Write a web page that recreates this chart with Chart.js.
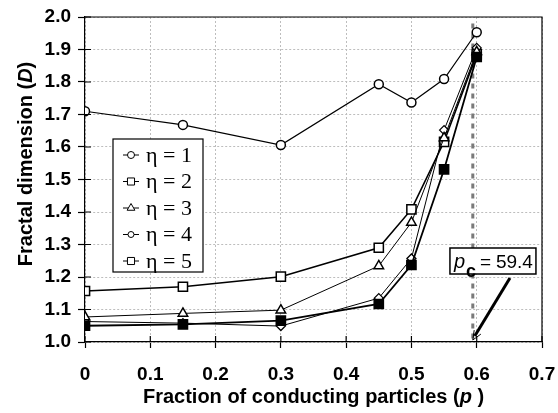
<!DOCTYPE html>
<html>
<head>
<meta charset="utf-8">
<title>Fractal dimension vs fraction of conducting particles</title>
<script src="https://cdn.jsdelivr.net/npm/chart.js@4.4.0/dist/chart.umd.min.js"></script>
<style>
  html, body { margin: 0; padding: 0; background: #fff; }
  #wrap { width: 558px; height: 413px; }
</style>
</head>
<body>
<div id="wrap"><canvas id="fractalChart" width="558" height="413"></canvas></div>
<script>
// Dữ liệu
const pValues = [0, 0.15, 0.3, 0.45, 0.5, 0.55, 0.6];
const eta1 = [1.710, 1.668, 1.606, 1.793, 1.737, 1.809, 1.953];
const eta2 = [1.050, 1.054, 1.066, 1.117, 1.237, 1.531, 1.877];
const eta3 = [1.077, 1.088, 1.098, 1.234, 1.368, 1.628, 1.893];
const eta4 = [1.063, 1.058, 1.049, 1.135, 1.257, 1.652, 1.905];
const eta5 = [1.157, 1.170, 1.201, 1.290, 1.408, 1.616, 1.885];
const seriesLabels = ['η = 1', 'η = 2', 'η = 3', 'η = 4', 'η = 5'];

const xTickValues = [0, 0.1, 0.2, 0.3, 0.4, 0.5, 0.6, 0.7];
const xTickLabels = ['0', '0.1', '0.2', '0.3', '0.4', '0.5', '0.6', '0.7'];
const yTickValues = [1.0, 1.1, 1.2, 1.3, 1.4, 1.5, 1.6, 1.7, 1.8, 1.9, 2.0];
const yTickLabels = ['1.0', '1.1', '1.2', '1.3', '1.4', '1.5', '1.6', '1.7', '1.8', '1.9', '2.0'];

const pCritical = 0.594;
const pCriticalLabel = '59.4';

const SANS = '"Liberation Sans", Arial, sans-serif';
const SERIF = '"Liberation Serif", "Times New Roman", serif';

function toPoints(ys) {
    return pValues.map((p, i) => ({ x: p, y: ys[i] }));
}

// Kiểu của từng đường
const styles = [
    { style: 'circle',   radius: 4.5, fill: '#fff', width: 1.2, pw: 1.5 },
    { style: 'rect',     radius: 6.5, fill: '#000', width: 1.8, pw: 1.5 },
    { style: 'triangle', radius: 5.5, fill: '#fff', width: 1.0, pw: 1.5 },
    { style: 'rectRot',  radius: 4.5, fill: '#fff', width: 1.0, pw: 1.3 },
    { style: 'rect',     radius: 6.5, fill: '#fff', width: 1.6, pw: 1.5 }
];
const legendStyles = [
    { style: 'circle',   radius: 3.5, fill: '#fff' },
    { style: 'rect',     radius: 5,   fill: '#fff' },
    { style: 'triangle', radius: 4.5, fill: '#fff' },
    { style: 'circle',   radius: 3,   fill: '#fff' },
    { style: 'rect',     radius: 5,   fill: '#fff' }
];

const allSeries = [eta1, eta2, eta3, eta4, eta5];

const datasets = allSeries.map((ys, i) => ({
    label: seriesLabels[i],
    data: toPoints(ys),
    borderColor: '#000',
    borderWidth: styles[i].width,
    pointStyle: styles[i].style,
    pointRadius: styles[i].radius,
    pointBackgroundColor: styles[i].fill,
    pointBorderColor: '#000',
    pointBorderWidth: styles[i].pw,
    tension: 0,
    fill: false
}));

// Plugin vẽ khung, chú thích, đường p_c
const extrasPlugin = {
    id: 'extras',
    beforeDatasetsDraw(chart) {
        const { ctx, scales: { x, y } } = chart;
        const px = x.getPixelForValue(pCritical);
        ctx.save();
        ctx.strokeStyle = '#7a7a7a';
        ctx.lineWidth = 3;
        ctx.setLineDash([5, 5]);
        ctx.beginPath();
        ctx.moveTo(px, y.getPixelForValue(1.98));
        ctx.lineTo(px, y.getPixelForValue(1.0));
        ctx.stroke();
        ctx.restore();
    },
    afterDraw(chart) {
        const { ctx, chartArea: a, scales: { x, y } } = chart;
        ctx.save();

        // khung trên và phải
        ctx.strokeStyle = '#000';
        ctx.lineWidth = 1.2;
        ctx.beginPath();
        ctx.moveTo(a.left, a.top);
        ctx.lineTo(a.right, a.top);
        ctx.lineTo(a.right, a.bottom);
        ctx.stroke();

        // vạch chia phía trong
        ctx.beginPath();
        xTickValues.forEach(v => {
            const px = x.getPixelForValue(v);
            ctx.moveTo(px, a.bottom);
            ctx.lineTo(px, a.bottom - 6);
        });
        yTickValues.forEach(v => {
            const py = y.getPixelForValue(v);
            ctx.moveTo(a.left, py);
            ctx.lineTo(a.left + 6, py);
        });
        ctx.stroke();

        // chú thích
        const lx = a.left + 28, ly = a.top + 122, lw = 90, lh = 133;
        ctx.fillStyle = '#fff';
        ctx.fillRect(lx, ly, lw, lh);
        ctx.lineWidth = 1.2;
        ctx.strokeRect(lx, ly, lw, lh);
        legendStyles.forEach((s, i) => {
            const cy = ly + 16 + i * 26.5;
            ctx.lineWidth = 1;
            ctx.beginPath();
            ctx.moveTo(lx + 10, cy);
            ctx.lineTo(lx + 26, cy);
            ctx.stroke();
            ctx.fillStyle = s.fill;
            ctx.strokeStyle = '#000';
            Chart.helpers.drawPoint(ctx, { pointStyle: s.style, radius: s.radius, rotation: 0, borderWidth: 1.2 }, lx + 18, cy);
            ctx.fillStyle = '#000';
            ctx.font = '22px ' + SERIF;
            ctx.textBaseline = 'middle';
            ctx.textAlign = 'left';
            ctx.fillText(seriesLabels[i], lx + 33, cy + 1);
        });

        // hộp p_c
        const bx = x.getPixelForValue(0.559), by = a.top + 231, bw = 86, bh = 26;
        ctx.fillStyle = '#fff';
        ctx.fillRect(bx, by, bw, bh);
        ctx.lineWidth = 1.5;
        ctx.strokeStyle = '#000';
        ctx.strokeRect(bx, by, bw, bh);
        ctx.fillStyle = '#000';
        ctx.textBaseline = 'alphabetic';
        ctx.textAlign = 'left';
        ctx.font = 'italic 20px ' + SANS;
        ctx.fillText('p', bx + 4, by + 20);
        ctx.font = 'bold 18px ' + SANS;
        ctx.fillText('c', bx + 16, by + 29);
        ctx.font = '19px ' + SANS;
        ctx.fillText('=', bx + 30, by + 20);
        ctx.fillText(pCriticalLabel, bx + 46, by + 20);

        // mũi tên
        const tipX = x.getPixelForValue(pCritical), tipY = y.getPixelForValue(1.0) - 2;
        const sx = bx + 60, sy = by + bh + 4;
        ctx.lineWidth = 3;
        ctx.beginPath();
        ctx.moveTo(sx, sy);
        ctx.lineTo(tipX + 2, tipY - 4);
        ctx.stroke();
        const ang = Math.atan2(tipY - sy, tipX - sx);
        ctx.lineWidth = 1;
        ctx.beginPath();
        ctx.moveTo(tipX, tipY);
        ctx.lineTo(tipX - 10 * Math.cos(ang - 0.4), tipY - 10 * Math.sin(ang - 0.4));
        ctx.moveTo(tipX, tipY);
        ctx.lineTo(tipX - 10 * Math.cos(ang + 0.4), tipY - 10 * Math.sin(ang + 0.4));
        ctx.stroke();

        // tiêu đề trục x
        const parts = [
            { t: 'Fraction of conducting particles (', f: 'bold 20px ' + SANS },
            { t: 'p', f: 'italic bold 20px ' + SANS },
            { t: ' )', f: 'bold 20px ' + SANS }
        ];
        let total = 0;
        parts.forEach(p => { ctx.font = p.f; p.w = ctx.measureText(p.t).width; total += p.w; });
        let cx = (a.left + a.right) / 2 - total / 2;
        ctx.textBaseline = 'middle';
        ctx.textAlign = 'left';
        parts.forEach(p => { ctx.font = p.f; ctx.fillText(p.t, cx, 397); cx += p.w; });

        // tiêu đề trục y
        const yParts = [
            { t: 'Fractal dimension (', f: 'bold 20px ' + SANS },
            { t: 'D', f: 'italic bold 20px ' + SANS },
            { t: ')', f: 'bold 20px ' + SANS }
        ];
        total = 0;
        yParts.forEach(p => { ctx.font = p.f; p.w = ctx.measureText(p.t).width; total += p.w; });
        ctx.translate(26, 164);
        ctx.rotate(-Math.PI / 2);
        cx = -total / 2;
        yParts.forEach(p => { ctx.font = p.f; ctx.fillText(p.t, cx, 0); cx += p.w; });

        ctx.restore();
    }
};

document.addEventListener('DOMContentLoaded', function() {
    Chart.defaults.font.family = SANS;
    Chart.defaults.color = '#000';

    new Chart(document.getElementById('fractalChart'), {
        type: 'line',
        data: { datasets: datasets },
        options: {
            responsive: false,
            animation: false,
            devicePixelRatio: 1,
            layout: { padding: { left: 0, right: 16, top: 17, bottom: 0 } },
            plugins: {
                legend: { display: false },
                tooltip: { enabled: false }
            },
            scales: {
                x: {
                    type: 'linear',
                    min: 0,
                    max: 0.7,
                    afterBuildTicks: s => { s.ticks = xTickValues.map(v => ({ value: v })); },
                    afterFit: s => { s.height = 71; s.paddingLeft = 0; s.paddingRight = 0; },
                    ticks: {
                        callback: (v, i) => xTickLabels[i],
                        font: { size: 19, weight: 'bold' },
                        padding: 15,
                        maxRotation: 0
                    },
                    grid: { color: '#bdbdbd', tickColor: '#000', tickLength: 6, tickWidth: 1.2 },
                    border: { color: '#000', width: 1.2, dash: [2, 2] }
                },
                y: {
                    type: 'linear',
                    min: 1.0,
                    max: 2.0,
                    afterBuildTicks: s => { s.ticks = yTickValues.map(v => ({ value: v })); },
                    afterFit: s => { s.width = 85; s.paddingTop = 0; s.paddingBottom = 0; },
                    ticks: {
                        callback: (v, i) => yTickLabels[i],
                        font: { size: 19, weight: 'bold' },
                        padding: 7
                    },
                    grid: { color: '#bdbdbd', tickColor: '#000', tickLength: 7, tickWidth: 1.2 },
                    border: { color: '#000', width: 1.2, dash: [2, 2] }
                }
            }
        },
        plugins: [extrasPlugin]
    });
});
</script>
</body>
</html>
